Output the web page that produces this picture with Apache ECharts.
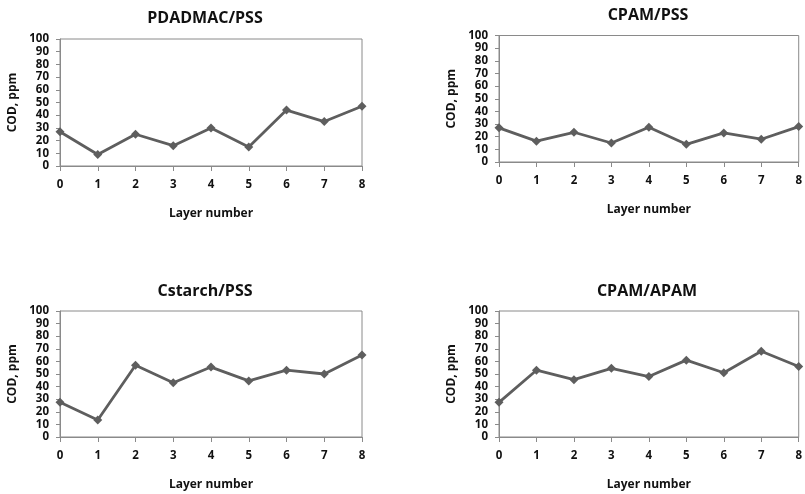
<!DOCTYPE html>
<html>
<head>
<meta charset="utf-8">
<script src="https://cdn.jsdelivr.net/npm/echarts@6/dist/echarts.min.js"></script>
<style>
  html, body { margin: 0; padding: 0; background: #fff; }
  #chart { width: 805px; height: 494px; }
</style>
</head>
<body>
<div id="chart"></div>
<script>
// layer numbers on the x axis
const layers = ['0', '1', '2', '3', '4', '5', '6', '7', '8']

// COD values (ppm)
const pdadmacPss = [27, 9, 25, 16, 30, 15, 44, 35, 47]
const cpamPss = [27, 16.5, 23.5, 15, 27.5, 14, 23, 18, 28]
const cstarchPss = [27.5, 13.5, 57, 43, 55.5, 44.5, 53, 50, 65]
const cpamApam = [27.5, 53, 45.5, 54.5, 48, 61, 51, 68, 56]

const titles = ['PDADMAC/PSS', 'CPAM/PSS', 'Cstarch/PSS', 'CPAM/APAM']
const panelData = [pdadmacPss, cpamPss, cstarchPss, cpamApam]

// plot boxes, in pixels
const grids = [
  { left: 60, top: 39, width: 302, height: 127 },
  { left: 499, top: 35.5, width: 302, height: 126.5 },
  { left: 60, top: 311, width: 302, height: 126 },
  { left: 499, top: 311, width: 302, height: 126 },
]
const titlePos = [
  { x: 205, y: 18 },
  { x: 648, y: 15 },
  { x: 205, y: 291 },
  { x: 647, y: 291 },
]

const FONT = '"Open Sans", "Liberation Sans", sans-serif'
const axisGray = '#8a8a8a'
const lineGray = '#5e5e5e'

const chart = echarts.init(document.getElementById('chart'))

chart.setOption({
  animation: false,
  textStyle: { fontFamily: FONT },
  title: titles.map((t, i) => ({
    text: t,
    left: titlePos[i].x,
    top: titlePos[i].y,
    padding: 0,
    textAlign: 'center',
    textVerticalAlign: 'middle',
    textStyle: { fontSize: 16, fontWeight: 'bold', color: '#111', fontFamily: FONT },
  })),
  grid: grids.map(g => ({
    ...g,
    show: true,
    borderColor: axisGray,
    borderWidth: 1,
    backgroundColor: 'transparent',
    containLabel: false,
  })),
  xAxis: grids.map((g, i) => ({
    gridIndex: i,
    type: 'category',
    data: layers,
    boundaryGap: false,
    name: 'Layer number',
    nameLocation: 'middle',
    nameGap: 42,
    nameTextStyle: { fontSize: 12, fontWeight: 'bold', color: '#111', fontFamily: FONT },
    axisLine: { lineStyle: { color: axisGray, width: 1 } },
    axisTick: { show: true, length: 5, lineStyle: { color: axisGray } },
    axisLabel: { margin: 13, fontSize: 11.5, fontWeight: 'bold', color: '#111', fontFamily: FONT },
    splitLine: { show: false },
  })),
  yAxis: grids.map((g, i) => ({
    gridIndex: i,
    type: 'value',
    min: 0,
    max: 100,
    interval: 10,
    name: 'COD, ppm',
    nameLocation: 'middle',
    nameGap: 41,
    nameTextStyle: { fontSize: 12, fontWeight: 'bold', color: '#111', fontFamily: FONT },
    axisLine: { show: true, lineStyle: { color: axisGray, width: 1 } },
    axisTick: { show: true, length: 4, lineStyle: { color: axisGray } },
    axisLabel: { margin: 11, fontSize: 11.5, fontWeight: 'bold', color: '#111', fontFamily: FONT },
    splitLine: { show: false },
  })),
  series: panelData.map((d, i) => ({
    type: 'line',
    xAxisIndex: i,
    yAxisIndex: i,
    data: d,
    symbol: 'diamond',
    symbolSize: 9,
    showAllSymbol: true,
    lineStyle: { color: lineGray, width: 2.8 },
    itemStyle: { color: lineGray },
  })),
})
</script>
</body>
</html>
